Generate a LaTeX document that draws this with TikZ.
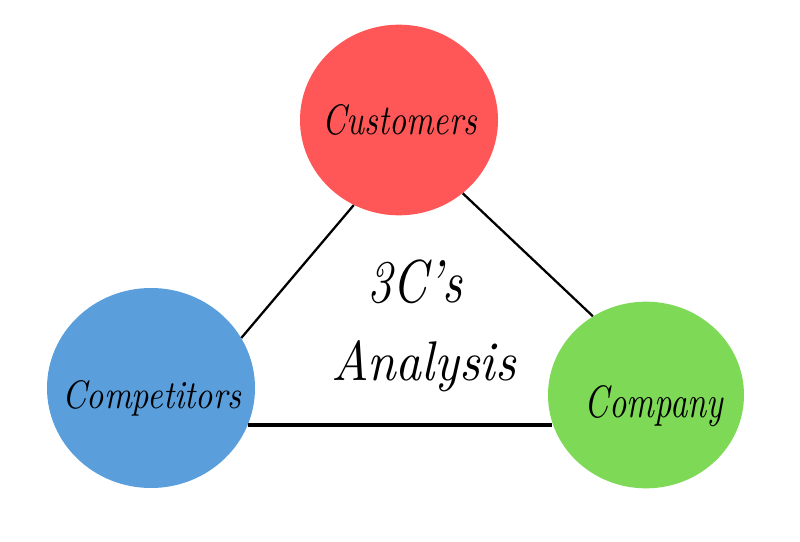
\documentclass[tikz,border=0pt]{standalone}
\usetikzlibrary{shapes.geometric}
\definecolor{cred}{HTML}{FF5757}
\definecolor{cblue}{HTML}{5A9FDB}
\definecolor{cgreen}{HTML}{7ED957}
\newcommand{\fitw}[3]{\resizebox{#1}{#2}{\itshape #3}}
\begin{document}
\begin{tikzpicture}[x=0.75pt,y=-0.75pt,
  ball/.style={ellipse, draw=none, inner sep=0pt},
  lbl/.style={anchor=base, inner sep=0pt, text=black},
  link/.style={line width=1.7pt, black},
  baselink/.style={line width=2.6pt, black}]
\useasboundingbox (0,0) rectangle (800,542);
\fill[white] (0,0) rectangle (800,542);
\node[ball, fill=cred, minimum width=148.5pt, minimum height=143pt] (cust) at (399,120) {};
\node[ball, fill=cblue, minimum width=156pt, minimum height=150pt] (comp) at (151,388) {};
\node[ball, fill=cgreen, minimum width=147pt, minimum height=140pt] (firm) at (646,395) {};
\draw[link] (cust.242.6) -- (comp.29.8);
\draw[link] (cust.311.8) -- (firm.124.2);
\draw[baselink] (comp.-21) -- (comp.-21 -| firm.197.9);
\node[lbl] (tcust) at (400,135) {\fitw{115.5pt}{22.5pt}{Customers}};
\node[lbl] (tcomp) at (152,408) {\fitw{134pt}{21pt}{Competitors}};
\node[lbl] (tfirm) at (654,417) {\fitw{103.5pt}{24pt}{Company}};
\node[lbl] (t3c) at (415,302) {\fitw{71pt}{32pt}{3C's}};
\node[lbl] (tana) at (424,380) {\fitw{138pt}{30pt}{Analysis}};
\end{tikzpicture}
\end{document}
